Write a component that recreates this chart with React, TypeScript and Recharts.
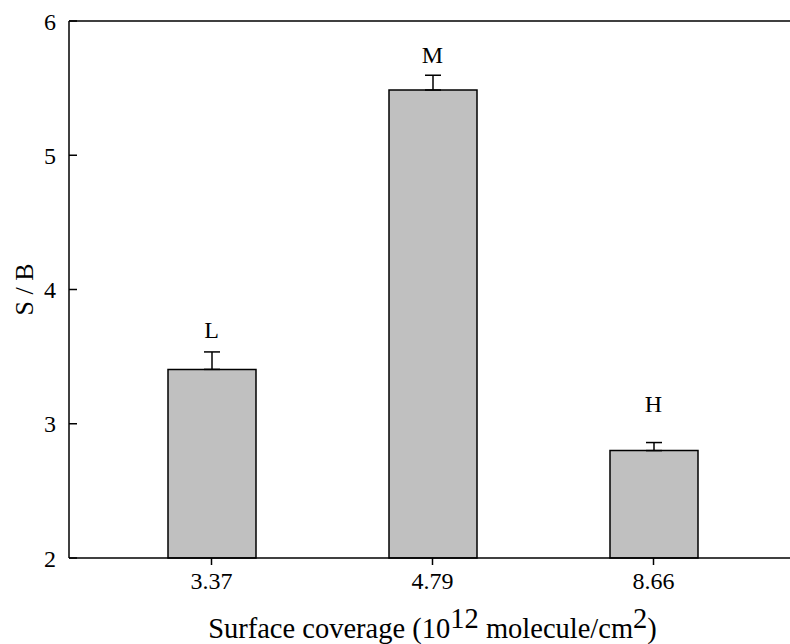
import React from 'react';
import {
  ComposedChart,
  Bar,
  Line,
  XAxis,
  YAxis,
  ErrorBar,
  LabelList,
  ReferenceLine,
  Label
} from 'recharts';

// Surface coverage categories (10^12 molecule/cm^2)
const coverages = ['3.37', '4.79', '8.66'];
// S/B ratio per coverage
const ratios = [3.405, 5.486, 2.8];
// upward error bar size
const errors = [0.13, 0.11, 0.06];
// letter tags above each bar and where they sit on the y scale
const tags = ['L', 'M', 'H'];
const tagLevels = [3.7, 5.75, 3.15];
const yTicks = [2, 3, 4, 5, 6];

const data = coverages.map((c, i) => ({
  coverage: c,
  ratio: ratios[i],
  err: [0, errors[i]],
  tag: tags[i],
  tagY: tagLevels[i]
}));

const FONT = '"Liberation Serif", "Times New Roman", serif';

const XTitle = (props: any) => {
  const { viewBox } = props;
  const cx = viewBox.x + viewBox.width / 2 + 3;
  return (
    <text x={cx} y={viewBox.y + 80} textAnchor="middle" fontFamily={FONT} fontSize={28.5} fill="#000">
      <tspan>Surface coverage (10</tspan>
      <tspan dy={-10}>12</tspan>
      <tspan dy={10}> molecule/cm</tspan>
      <tspan dy={-10}>2</tspan>
      <tspan dy={10}>)</tspan>
    </text>
  );
};

const YTitle = (props: any) => {
  const { viewBox } = props;
  const x = viewBox.x + 24;
  const y = viewBox.y + viewBox.height / 2;
  return (
    <text
      x={x}
      y={y}
      transform={`rotate(-90, ${x}, ${y})`}
      textAnchor="middle"
      dominantBaseline="central"
      fontFamily={FONT}
      fontSize={26}
      fill="#000"
    >
      S / B
    </text>
  );
};

const App: React.FC = () => {
  return (
    <div style={{ position: 'absolute', left: 0, top: 0, background: '#fff' }}>
      <ComposedChart
        width={790}
        height={644}
        data={data}
        margin={{ top: 21, right: 0, left: 0, bottom: 0 }}
      >
        <XAxis
          dataKey="coverage"
          height={86}
          padding={{ left: 32, right: 26 }}
          tickSize={7}
          tickMargin={7}
          axisLine={{ stroke: '#000', strokeWidth: 1.5 }}
          tickLine={{ stroke: '#000', strokeWidth: 1.5 }}
          tick={{ fill: '#000', fontSize: 24, fontFamily: FONT }}
        >
          <Label content={XTitle} />
        </XAxis>
        <YAxis
          domain={[2, 6]}
          ticks={yTicks}
          width={69}
          tickSize={-8}
          tickMargin={21}
          axisLine={{ stroke: '#000', strokeWidth: 1.5 }}
          tickLine={{ stroke: '#000', strokeWidth: 1.5 }}
          tick={{ fill: '#000', fontSize: 24, fontFamily: FONT }}
        >
          <Label content={YTitle} />
        </YAxis>
        <ReferenceLine y={6} stroke="#000" strokeWidth={1.5} />
        <Bar
          dataKey="ratio"
          barSize={88}
          fill="#c0c0c0"
          stroke="#000"
          strokeWidth={1.5}
          isAnimationActive={false}
        >
          <ErrorBar dataKey="err" width={8} stroke="#000" strokeWidth={1.5} />
        </Bar>
        <Line
          dataKey="tagY"
          stroke="none"
          dot={false}
          activeDot={false}
          isAnimationActive={false}
        >
          <LabelList dataKey="tag" position="center" fill="#000" fontSize={24} fontFamily={FONT} />
        </Line>
      </ComposedChart>
    </div>
  );
};

export default App;
